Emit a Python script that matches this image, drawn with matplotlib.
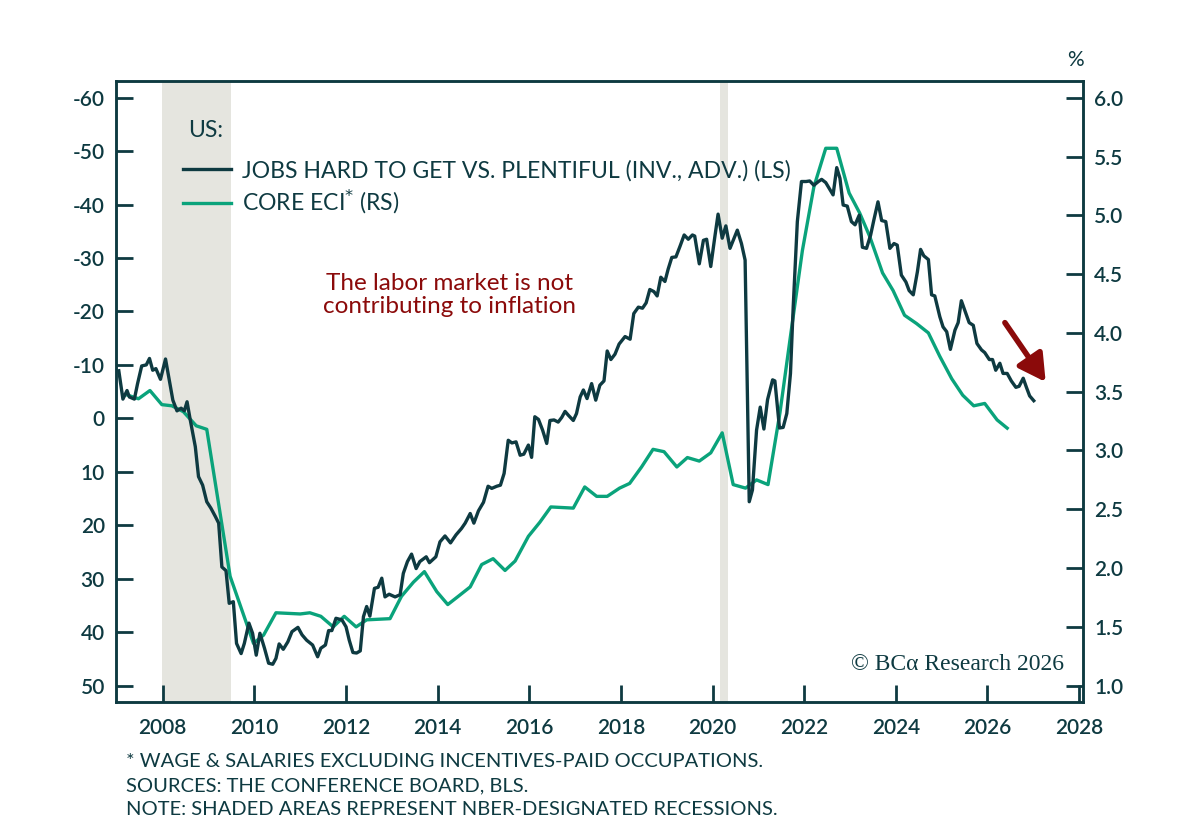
import matplotlib
matplotlib.use("Agg")
import matplotlib.pyplot as plt

# --- data --------------------------------------------------------------------
jobs_year = [
    2007.04, 2007.13, 2007.22, 2007.27, 2007.38, 2007.45, 2007.54, 2007.64, 2007.71, 2007.78,
    2007.85, 2007.95, 2008.06, 2008.14, 2008.22, 2008.31, 2008.40, 2008.47, 2008.53, 2008.60,
    2008.71, 2008.78, 2008.87, 2008.96, 2009.05, 2009.15, 2009.22, 2009.29, 2009.38, 2009.45,
    2009.54, 2009.61, 2009.71, 2009.78, 2009.88, 2009.96, 2010.04, 2010.12, 2010.22, 2010.31,
    2010.40, 2010.47, 2010.54, 2010.63, 2010.73, 2010.82, 2010.95, 2011.04, 2011.14, 2011.27,
    2011.38, 2011.45, 2011.55, 2011.62, 2011.69, 2011.78, 2011.91, 2012.00, 2012.07, 2012.15,
    2012.23, 2012.31, 2012.38, 2012.45, 2012.52, 2012.62, 2012.70, 2012.78, 2012.85, 2012.94,
    2013.07, 2013.18, 2013.25, 2013.34, 2013.43, 2013.53, 2013.61, 2013.75, 2013.82, 2013.96,
    2014.05, 2014.16, 2014.28, 2014.40, 2014.52, 2014.60, 2014.71, 2014.79, 2014.89, 2015.00,
    2015.10, 2015.18, 2015.29, 2015.37, 2015.45, 2015.54, 2015.62, 2015.71, 2015.80, 2015.88,
    2015.98, 2016.05, 2016.12, 2016.20, 2016.29, 2016.38, 2016.45, 2016.54, 2016.63, 2016.71,
    2016.78, 2016.85, 2016.96, 2017.03, 2017.11, 2017.18, 2017.26, 2017.36, 2017.45, 2017.54,
    2017.63, 2017.70, 2017.78, 2017.87, 2017.96, 2018.09, 2018.20, 2018.28, 2018.38, 2018.47,
    2018.55, 2018.63, 2018.72, 2018.79, 2018.87, 2018.96, 2019.03, 2019.11, 2019.20, 2019.29,
    2019.38, 2019.47, 2019.56, 2019.61, 2019.71, 2019.80, 2019.87, 2019.96, 2020.05, 2020.12,
    2020.21, 2020.29, 2020.38, 2020.54, 2020.63, 2020.71, 2020.80, 2020.87, 2020.96, 2021.04,
    2021.12, 2021.20, 2021.31, 2021.36, 2021.46, 2021.54, 2021.62, 2021.70, 2021.76, 2021.85,
    2021.94, 2022.04, 2022.12, 2022.21, 2022.31, 2022.38, 2022.47, 2022.56, 2022.63, 2022.71,
    2022.78, 2022.85, 2022.94, 2023.03, 2023.11, 2023.20, 2023.27, 2023.36, 2023.45, 2023.52,
    2023.61, 2023.69, 2023.78, 2023.87, 2023.96, 2024.03, 2024.12, 2024.22, 2024.29, 2024.38,
    2024.47, 2024.54, 2024.61, 2024.71, 2024.78, 2024.85, 2024.96, 2025.03, 2025.11, 2025.19,
    2025.29, 2025.36, 2025.43, 2025.53, 2025.60, 2025.69, 2025.77, 2025.87, 2025.94, 2026.04,
    2026.11, 2026.18, 2026.27, 2026.34, 2026.43, 2026.52, 2026.62, 2026.69, 2026.78, 2026.85,
    2026.92, 2027.01,
]
jobs_value = [
    -8.9, -3.6, -5.2, -4.0, -3.6, -6.5, -9.8, -10.0, -11.2, -9.0,
    -9.3, -7.3, -11.1, -7.2, -3.4, -1.4, -1.9, -1.4, -3.1, 0.3,
    5.3, 10.9, 12.5, 15.6, 16.8, 18.4, 19.6, 27.8, 28.5, 34.6,
    34.3, 42.1, 44.0, 42.1, 38.3, 40.2, 44.3, 40.2, 43.0, 45.8,
    46.0, 44.9, 42.2, 43.2, 41.8, 39.9, 39.1, 40.5, 41.5, 42.4,
    44.6, 43.0, 42.4, 39.7, 39.7, 37.4, 37.7, 39.0, 41.5, 43.8,
    43.9, 43.5, 37.1, 35.2, 37.0, 31.8, 31.6, 29.9, 33.4, 32.9,
    33.4, 33.0, 29.0, 26.8, 25.4, 28.1, 26.8, 25.9, 27.0, 25.9,
    23.1, 22.0, 23.3, 21.8, 20.6, 19.6, 17.8, 19.6, 17.3, 15.7,
    12.7, 13.1, 12.7, 12.5, 10.3, 4.1, 4.6, 4.4, 6.9, 6.7,
    5.0, 7.3, -0.3, 0.2, 2.2, 4.7, 0.4, 0.3, 0.7, -0.2,
    -1.3, -0.6, 0.4, -0.9, -4.0, -5.3, -3.7, -6.5, -3.4, -6.2,
    -7.0, -12.6, -11.0, -12.0, -13.9, -15.3, -14.8, -19.6, -20.8, -20.6,
    -21.6, -24.1, -23.7, -22.9, -26.4, -25.6, -27.9, -30.1, -30.2, -32.2,
    -34.3, -33.5, -34.3, -34.1, -28.9, -33.3, -33.5, -28.4, -34.0, -38.2,
    -33.7, -36.0, -31.8, -35.2, -32.7, -29.6, 15.6, 13.4, 2.2, -2.1,
    2.0, -3.5, -7.2, -7.0, 1.8, 1.7, -0.9, -8.4, -20.9, -36.8,
    -44.3, -44.3, -44.4, -43.6, -44.3, -44.7, -44.1, -42.8, -41.8, -46.9,
    -44.9, -39.9, -39.7, -36.8, -36.2, -38.0, -32.0, -31.8, -34.3, -37.1,
    -40.5, -37.0, -36.8, -31.8, -32.7, -32.4, -26.8, -25.5, -23.9, -23.1,
    -27.4, -31.6, -30.4, -29.7, -23.1, -22.9, -19.0, -17.1, -16.2, -12.9,
    -16.5, -17.9, -22.0, -19.6, -17.9, -17.4, -14.0, -12.8, -12.3, -11.0,
    -11.0, -9.0, -10.3, -8.4, -8.4, -7.0, -5.8, -6.0, -7.5, -5.8,
    -4.2, -3.3,
]

eci_year = [
    2007.24, 2007.47, 2007.72, 2007.98, 2008.20, 2008.45, 2008.73, 2008.96, 2009.47, 2009.98,
    2010.20, 2010.47, 2011.00, 2011.21, 2011.45, 2011.72, 2011.96, 2012.22, 2012.45, 2012.96,
    2013.21, 2013.47, 2013.71, 2013.98, 2014.22, 2014.45, 2014.71, 2014.96, 2015.21, 2015.47,
    2015.69, 2015.98, 2016.23, 2016.47, 2016.96, 2017.21, 2017.47, 2017.70, 2017.97, 2018.19,
    2018.45, 2018.70, 2018.94, 2019.22, 2019.45, 2019.71, 2019.96, 2020.21, 2020.45, 2020.72,
    2020.96, 2021.21, 2021.47, 2021.71, 2021.96, 2022.21, 2022.47, 2022.71, 2022.98, 2023.21,
    2023.43, 2023.71, 2023.94, 2024.19, 2024.45, 2024.71, 2024.96, 2025.22, 2025.46, 2025.70,
    2025.94, 2026.21, 2026.43,
]
eci_value = [
    3.47, 3.44, 3.51, 3.39, 3.38, 3.33, 3.21, 3.18, 1.93, 1.36,
    1.43, 1.62, 1.61, 1.62, 1.59, 1.50, 1.59, 1.50, 1.56, 1.57,
    1.76, 1.88, 1.97, 1.80, 1.69, 1.76, 1.84, 2.03, 2.08, 1.98,
    2.06, 2.27, 2.39, 2.52, 2.51, 2.69, 2.61, 2.61, 2.68, 2.72,
    2.86, 3.01, 2.99, 2.86, 2.94, 2.91, 2.98, 3.15, 2.71, 2.68,
    2.75, 2.71, 3.32, 4.00, 4.70, 5.24, 5.57, 5.57, 5.19, 5.02,
    4.82, 4.51, 4.36, 4.15, 4.08, 4.00, 3.80, 3.61, 3.47, 3.38,
    3.40, 3.26, 3.19,
]

recessions = [(2007.99, 2009.50), (2020.16, 2020.33)]

left_ticks = list(range(-60, 51, 10))
right_ticks = [1.0, 1.5, 2.0, 2.5, 3.0, 3.5, 4.0, 4.5, 5.0, 5.5, 6.0]
year_ticks = list(range(2008, 2029, 2))

# --- style -------------------------------------------------------------------
DARK = "#0e3a41"
GREEN = "#0aa37b"
RED = "#8b0a0a"
SHADE = "#e5e5df"

plt.rcParams["font.family"] = ["Lato", "DejaVu Sans"]
plt.rcParams["text.color"] = DARK

fig = plt.figure(figsize=(12, 8.3), dpi=100)
ax = fig.add_axes([0.0967, 0.1546, 0.806, 0.7478])
ax2 = ax.twinx()

# shading goes on the lower axes so both lines sit on top of it
for start, end in recessions:
    ax2.axvspan(start, end, color=SHADE, lw=0, zorder=0)

l1, = ax.plot(jobs_year, jobs_value, color=DARK, lw=2.4, zorder=3,
              label="JOBS HARD TO GET VS. PLENTIFUL (INV., ADV.) (LS)")
l2, = ax2.plot(eci_year, eci_value, color=GREEN, lw=2.4, zorder=2,
               label="CORE ECI$^{*}$ (RS)")

ax.set_xlim(2006.98, 2028.09)
ax.set_ylim(53.0, -63.1)
ax2.set_ylim(0.864, 6.142)

ax.set_xticks(year_ticks)
ax.set_xticklabels([str(y) for y in year_ticks])
ax.set_yticks(left_ticks)
ax.set_yticklabels([str(t) for t in left_ticks])
ax2.set_yticks(right_ticks)
ax2.set_yticklabels([f"{t:.1f}" for t in right_ticks])

for a in (ax, ax2):
    for s in a.spines.values():
        s.set_color(DARK)
        s.set_linewidth(1.8)
ax.tick_params(axis="both", direction="in", length=12, width=2, color=DARK,
               labelcolor=DARK, labelsize=15)
ax.tick_params(axis="x", pad=12)
ax.tick_params(axis="y", pad=8)
ax2.tick_params(axis="y", direction="in", length=12, width=2, color=DARK,
                labelcolor=DARK, labelsize=15, pad=8)
for lab in ax.get_xticklabels() + ax.get_yticklabels() + ax2.get_yticklabels():
    lab.set_fontweight("semibold")
ax.set_zorder(ax2.get_zorder() + 1)
ax.patch.set_visible(False)

# legend (header drawn separately so its gap can be set)
ax.text(0.0745, 0.921, "US:", transform=ax.transAxes, ha="left",
        va="center", fontsize=16.6, color=DARK)
leg = ax.legend(handles=[l1, l2], loc="upper left",
                bbox_to_anchor=(0.069, 0.873), frameon=False, fontsize=16.6,
                handlelength=2.1, handletextpad=0.45, labelspacing=0.3,
                borderpad=0, borderaxespad=0)
for t in leg.get_texts():
    t.set_color(DARK)

ax.text(2014.25, -23.1, "The labor market is not\ncontributing to inflation",
        color=RED, fontsize=17.5, ha="center", va="center", linespacing=1.1)

ax.annotate("", xy=(2027.27, -6.8), xytext=(2026.38, -17.9),
            arrowprops=dict(arrowstyle="-|>,head_length=0.9,head_width=0.5",
                            color=RED, lw=4, mutation_scale=18,
                            shrinkA=0, shrinkB=0))

ax.text(0.9805, 0.043, "\u00a9 BC\u03b1 Research 2026", transform=ax.transAxes,
        ha="right", va="bottom", fontsize=17,
        family=["Liberation Serif", "DejaVu Serif"], color=DARK)

fig.text(1075 / 1200, 1 - 60 / 830, "%", ha="center", va="center",
         fontsize=15, color=DARK)

notes = ("* WAGE & SALARIES EXCLUDING INCENTIVES-PAID OCCUPATIONS.\n"
         "SOURCES: THE CONFERENCE BOARD, BLS.\n"
         "NOTE: SHADED AREAS REPRESENT NBER-DESIGNATED RECESSIONS.")
fig.text(126 / 1200, 1 - 753 / 830, notes, ha="left", va="top", fontsize=14.5,
         color=DARK, linespacing=1.5)

fig.savefig("out.png", dpi=100)
